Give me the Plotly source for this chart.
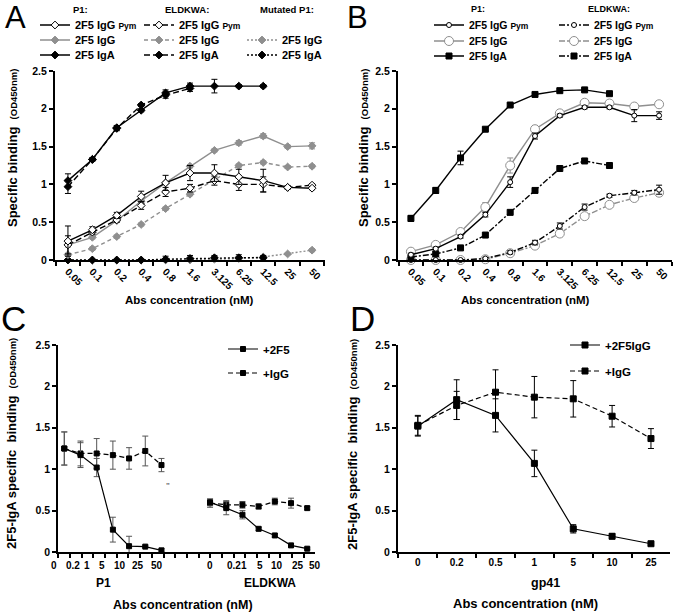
import plotly.graph_objects as go

W, H = 677, 614
FONT = "Liberation Sans, Arial, sans-serif"
BLACK = "#000000"
GRAY = "#8f8f8f"

# ---------------- data ----------------
conc = ["0.05", "0.1", "0.2", "0.4", "0.8", "1.6", "3.125", "6.25", "12.5", "25", "50"]

# Panel A
a_p1_pym = [0.25, 0.40, 0.59, 0.84, 1.02, 1.15, 1.15, 1.10, 1.05, 0.96, 0.95]
a_p1_pym_err = [0.20, 0.04, 0.04, 0.07, 0.10, 0.10, 0.11, 0.10, 0.15, 0.02, 0.02]
a_p1_igg = [0.20, 0.30, 0.52, 0.78, 1.02, 1.24, 1.45, 1.55, 1.64, 1.50, 1.51]
a_p1_igg_err = [0.03, 0.02, 0.02, 0.02, 0.02, 0.02, 0.02, 0.03, 0.03, 0.02, 0.04]
a_p1_iga = [1.05, 1.33, 1.75, 1.98, 2.21, 2.30, 2.30, 2.30, 2.30]
a_p1_iga_err = [0.09, 0.02, 0.03, 0.02, 0.04, 0.04, 0.09, 0.02, 0.02]
a_el_pym = [0.20, 0.37, 0.53, 0.72, 0.90, 0.95, 1.05, 1.00, 1.00, 0.96, 0.99]
a_el_pym_err = [0.12, 0.03, 0.03, 0.05, 0.06, 0.05, 0.06, 0.08, 0.10, 0.02, 0.02]
a_el_igg = [0.07, 0.15, 0.31, 0.47, 0.68, 0.87, 1.06, 1.25, 1.29, 1.23, 1.24]
a_el_igg_err = [0.02, 0.02, 0.02, 0.02, 0.02, 0.02, 0.02, 0.02, 0.02, 0.02, 0.02]
a_el_iga = [0.97, 1.33, 1.74, 2.05, 2.18, 2.27]
a_el_iga_err = [0.09, 0.02, 0.03, 0.02, 0.04, 0.04]
a_mut_igg = [0.0, 0.0, 0.0, 0.0, 0.0, 0.0, 0.01, 0.02, 0.04, 0.08, 0.13]
a_mut_igg_err = [0, 0, 0, 0, 0, 0, 0, 0, 0, 0.01, 0.02]
a_mut_iga = [0.0, 0.0, 0.0, 0.0, 0.01, 0.02, 0.03, 0.03, 0.03]
a_mut_iga_err = [0, 0, 0, 0.01, 0.04, 0.04, 0.03, 0.04, 0.03]

# Panel B
b_p1_pym = [0.07, 0.15, 0.31, 0.60, 1.03, 1.64, 1.91, 2.02, 2.02, 1.91, 1.91]
b_p1_pym_err = [0.02, 0.02, 0.02, 0.03, 0.07, 0.04, 0.02, 0.02, 0.02, 0.08, 0.05]
b_p1_igg = [0.11, 0.20, 0.37, 0.70, 1.25, 1.73, 1.94, 2.08, 2.07, 2.03, 2.06]
b_p1_igg_err = [0.02, 0.02, 0.03, 0.06, 0.10, 0.05, 0.02, 0.02, 0.02, 0.03, 0.02]
b_p1_iga = [0.55, 0.92, 1.35, 1.73, 2.05, 2.19, 2.24, 2.25, 2.20]
b_p1_iga_err = [0.04, 0.04, 0.09, 0.02, 0.02, 0.02, 0.02, 0.02, 0.02]
b_el_pym = [0.0, 0.0, 0.0, 0.02, 0.10, 0.23, 0.45, 0.70, 0.85, 0.89, 0.93]
b_el_pym_err = [0.0, 0.0, 0.0, 0.01, 0.02, 0.03, 0.04, 0.04, 0.02, 0.03, 0.06]
b_el_igg = [0.0, 0.0, 0.0, 0.01, 0.09, 0.19, 0.35, 0.58, 0.73, 0.82, 0.89]
b_el_igg_err = [0.0, 0.0, 0.0, 0.01, 0.02, 0.02, 0.04, 0.02, 0.02, 0.02, 0.05]
b_el_iga = [0.04, 0.08, 0.16, 0.33, 0.63, 0.92, 1.21, 1.31, 1.25]

# Panel C
c_doses = ["0", "0.2", "1", "5", "10", "25", "50"]
c_labels = ["0", "0.2", "1", "5", "10", "25", "50", "0", "0.21", "5", "10", "25", "50"]
c_groups = ["P1", "ELDKWA"]
c_p1_2f5 = [1.25, 1.17, 1.02, 0.27, 0.07, 0.065, 0.02]
c_p1_2f5_err = [0.20, 0.15, 0.11, 0.15, 0.12, 0.01, 0.02]
c_p1_igg = [1.25, 1.19, 1.19, 1.17, 1.13, 1.22, 1.05]
c_p1_igg_err = [0.20, 0.15, 0.18, 0.17, 0.13, 0.18, 0.08]
c_el_2f5 = [0.60, 0.53, 0.45, 0.28, 0.20, 0.08, 0.04]
c_el_2f5_err = [0.04, 0.08, 0.05, 0.02, 0.02, 0.02, 0.01]
c_el_igg = [0.59, 0.57, 0.57, 0.55, 0.61, 0.59, 0.53]
c_el_igg_err = [0.05, 0.05, 0.04, 0.03, 0.04, 0.06, 0.02]

# Panel D
d_doses = ["0", "0.2", "0.5", "1", "5", "10", "25"]
d_2f5 = [1.52, 1.84, 1.65, 1.07, 0.28, 0.19, 0.10]
d_2f5_err = [0.12, 0.24, 0.20, 0.16, 0.05, 0.03, 0.02]
d_igg = [1.53, 1.77, 1.93, 1.87, 1.85, 1.64, 1.37]
d_igg_err = [0.12, 0.17, 0.27, 0.25, 0.22, 0.13, 0.12]

# ---------------- helpers ----------------
def fx(p):
    return p / W

def fy(p):
    return 1 - p / H

PYM = "2F5 IgG <span style='font-size:8.5px'>Pym</span>"

fig = go.Figure()

def add(x, y, err, name, legend, ax, color, dash, symbol, msize, fill, mline,
        showlegend=True, errcolor=None, lw=1.4):
    ex = dict(type="data", array=err, visible=True, color=errcolor or color,
              thickness=1, width=3) if err is not None else None
    fig.add_trace(go.Scatter(
        x=x, y=y, mode="lines+markers", name=name,
        xaxis="x" + ax, yaxis="y" + ax,
        line=dict(color=color, width=lw, dash=dash),
        marker=dict(symbol=symbol, size=msize, color=fill,
                    line=dict(color=mline, width=1)),
        error_y=ex, cliponaxis=False,
        legend=legend, showlegend=showlegend, hoverinfo="skip"))

# Panel A traces
add(conc[:len(a_mut_igg)], a_mut_igg, a_mut_igg_err, "2F5 IgG", "legend7", "", GRAY, "2px,2px", "diamond", 6, GRAY, GRAY)
add(conc[:len(a_mut_iga)], a_mut_iga, a_mut_iga_err, "2F5 IgA", "legend8", "", BLACK, "2px,2px", "diamond", 6, BLACK, BLACK)
add(conc[:len(a_el_igg)], a_el_igg, a_el_igg_err, "2F5 IgG", "legend5", "", GRAY, "4px,3px", "diamond", 6, GRAY, GRAY)
add(conc[:len(a_p1_igg)], a_p1_igg, a_p1_igg_err, "2F5 IgG", "legend2", "", GRAY, "solid", "diamond", 6, GRAY, GRAY)
add(conc[:len(a_el_pym)], a_el_pym, a_el_pym_err, PYM, "legend4", "", BLACK, "6px,3px", "diamond", 6, "white", BLACK)
add(conc[:len(a_p1_pym)], a_p1_pym, a_p1_pym_err, PYM, "legend", "", BLACK, "solid", "diamond", 6, "white", BLACK)
add(conc[:len(a_el_iga)], a_el_iga, a_el_iga_err, "2F5 IgA", "legend6", "", BLACK, "6px,3px", "diamond", 6, BLACK, BLACK)
add(conc[:len(a_p1_iga)], a_p1_iga, a_p1_iga_err, "2F5 IgA", "legend3", "", BLACK, "solid", "diamond", 6, BLACK, BLACK)

# Panel B traces
DD = "6px,2px,2px,2px"
add(conc[:len(b_el_igg)], b_el_igg, b_el_igg_err, "2F5 IgG", "legend13", "2", GRAY, DD, "circle", 9, "white", GRAY)
add(conc[:len(b_el_pym)], b_el_pym, b_el_pym_err, PYM, "legend12", "2", BLACK, DD, "circle", 5, "white", BLACK)
add(conc[:len(b_el_iga)], b_el_iga, None, "2F5 IgA", "legend14", "2", BLACK, DD, "square", 6, BLACK, BLACK)
add(conc[:len(b_p1_igg)], b_p1_igg, b_p1_igg_err, "2F5 IgG", "legend10", "2", GRAY, "solid", "circle", 9, "white", GRAY)
add(conc[:len(b_p1_pym)], b_p1_pym, b_p1_pym_err, PYM, "legend9", "2", BLACK, "solid", "circle", 5, "white", BLACK)
add(conc[:len(b_p1_iga)], b_p1_iga, b_p1_iga_err, "2F5 IgA", "legend11", "2", BLACK, "solid", "square", 6, BLACK, BLACK)

# Panel C traces (two groups of doses on one linear axis)
c_p1_x = list(range(len(c_doses)))
c_el_x = [i + len(c_doses) + 2 for i in range(len(c_doses))]
EC = "#555555"
add(c_p1_x, c_p1_igg, c_p1_igg_err, "+IgG", "legend16", "3", BLACK, "5px,3px", "square", 5, BLACK, BLACK, errcolor=EC, lw=1.2)
add(c_el_x, c_el_igg, c_el_igg_err, "+IgG", "legend16", "3", BLACK, "5px,3px", "square", 5, BLACK, BLACK, showlegend=False, errcolor=EC, lw=1.2)
add(c_p1_x, c_p1_2f5, c_p1_2f5_err, "+2F5", "legend15", "3", BLACK, "solid", "square", 5, BLACK, BLACK, errcolor=EC, lw=1.2)
add(c_el_x, c_el_2f5, c_el_2f5_err, "+2F5", "legend15", "3", BLACK, "solid", "square", 5, BLACK, BLACK, showlegend=False, errcolor=EC, lw=1.2)

# Panel D traces
add(d_doses, d_igg, d_igg_err, "+IgG", "legend18", "4", BLACK, "5px,3px", "square", 6, BLACK, BLACK, lw=1.2)
add(d_doses, d_2f5, d_2f5_err, "+2F5IgG", "legend17", "4", BLACK, "solid", "square", 6, BLACK, BLACK, lw=1.2)

# ---------------- axes ----------------
def tfont(size):
    return dict(family=FONT, size=size, color=BLACK, weight="bold")

def yax(domain, anchor):
    return dict(domain=domain, anchor=anchor, range=[0, 2.5],
                tickvals=[0, 0.5, 1, 1.5, 2, 2.5],
                ticktext=["0", "0.5", "1", "1.5", "2", "2.5"],
                showline=True, linewidth=2, linecolor=BLACK, ticks="outside",
                ticklen=4, tickwidth=1.5, tickcolor=BLACK, showgrid=False,
                zeroline=False, tickfont=tfont(10.5), fixedrange=True)

def xcat(domain, anchor, cats, rng, angle):
    return dict(domain=domain, anchor=anchor, type="category",
                categoryorder="array", categoryarray=cats, range=rng,
                tickson="boundaries", showline=True, linewidth=2,
                linecolor=BLACK, ticks="outside", ticklen=4, tickwidth=1.5,
                tickcolor=BLACK, tickangle=angle, showgrid=False,
                zeroline=False, tickfont=tfont(10), fixedrange=True)

yA = [fy(260), fy(71)]
yC = [fy(552), fy(345)]

layout = dict(
    width=W, height=H, margin=dict(l=0, r=0, t=0, b=0, autoexpand=False),
    paper_bgcolor="white", plot_bgcolor="white",
    font=dict(family=FONT, color=BLACK),
    xaxis=xcat([fx(55), fx(325)], "y", conc, [-0.53, 10.53], 45),
    yaxis=yax(yA, "x"),
    xaxis2=xcat([fx(398), fx(672)], "y2", conc, [-0.52, 10.52], 45),
    yaxis2=yax(yA, "x2"),
    xaxis3=dict(domain=[fx(58.3), fx(315)], anchor="y3", range=[-0.37, 15.48],
                tick0=-0.37, dtick=0.722, showticklabels=False,
                showline=True, linewidth=2, linecolor=BLACK, ticks="outside",
                ticklen=4, tickwidth=1.5, tickcolor=BLACK, showgrid=False,
                zeroline=False, fixedrange=True),
    yaxis3=yax(yC, "x3"),
    xaxis4=xcat([fx(398), fx(670)], "y4", d_doses, [-0.51, 6.49], 0),
    yaxis4=yax(yC, "x4"),
)

# legends (one per entry for exact placement)
def leg(sx, sy, size=11):
    return dict(x=fx(sx - 8), y=fy(sy), xanchor="left", yanchor="middle",
                bgcolor="rgba(0,0,0,0)", borderwidth=0, itemwidth=30,
                font=tfont(size), itemclick=False, itemdoubleclick=False)

legpos = {
    "legend": (43, 25, 11), "legend2": (43, 40, 11), "legend3": (43, 55, 11),
    "legend4": (147, 25, 11), "legend5": (147, 40, 11), "legend6": (147, 55, 11),
    "legend7": (250, 40, 11), "legend8": (250, 55, 11),
    "legend9": (437, 25, 10.5), "legend10": (437, 41, 10.5), "legend11": (437, 56, 10.5),
    "legend12": (562, 25, 10.5), "legend13": (562, 41, 10.5), "legend14": (562, 56, 10.5),
    "legend15": (231, 349, 11.5), "legend16": (231, 373, 11.5),
    "legend17": (573, 345, 11.5), "legend18": (573, 371, 11.5),
}
for k, (sx, sy, s) in legpos.items():
    layout[k] = leg(sx, sy, s)

fig.update_layout(**layout)

# ---------------- annotations ----------------
def note(text, x, y, size, weight="bold", angle=0, xanchor="center", color=BLACK):
    fig.add_annotation(text=text, x=x, y=y, xref="paper", yref="paper",
                       showarrow=False, textangle=angle, xanchor=xanchor,
                       yanchor="middle",
                       font=dict(family=FONT, size=size, color=color, weight=weight))

# panel letters
note("A", fx(15), fy(17), 31, weight="normal")
note("B", fx(357), fy(17), 31, weight="normal")
note("C", fx(13), fy(318), 35, weight="normal")
note("D", fx(362), fy(318), 35, weight="normal")

# legend headers
note("P1:", fx(80), fy(9), 9.5)
note("ELDKWA:", fx(187), fy(9), 9.5)
note("Mutated P1:", fx(287), fy(9), 9.5)
note("P1:", fx(478), fy(9), 9)
note("ELDKWA:", fx(609), fy(9), 9)

# axis titles
XT = "Abs concentration (nM)"
note(XT, fx(190), fy(300), 11.5)
note(XT, fx(525), fy(300), 11.5)
note(XT, fx(183), fy(605), 12.5)
note(XT, fx(525), fy(603), 13)
note("gp41", fx(545), fy(583), 12.5)
YT1 = "Specific binding&nbsp; <span style='font-size:9.5px'>(OD450nm)</span>"
YT2 = "2F5-IgA specific&nbsp; binding&nbsp; <span style='font-size:9.5px'>(OD450nm)</span>"
note(YT1, fx(12), fy(148), 13, angle=-90)
note(YT1, fx(363), fy(148), 13, angle=-90)
note(YT2, fx(11), fy(444), 13, angle=-90)
note(YT2, fx(352), fy(444), 13, angle=-90)

# panel C tick labels (Excel-style offset labels) and group names
c_label_px = [54, 72.7, 86.7, 101.7, 120, 138, 156.7, 210, 236.7, 260, 277, 298, 315]
for t, p in zip(c_labels, c_label_px):
    note(t, fx(p), fy(565), 10)
note(c_groups[0], fx(103), fy(583), 12)
note(c_groups[1], fx(270), fy(583), 12)
note("\"", fx(168), fy(485), 8, color="#666666")

fig.write_html(
    "out.html",
    config={"displayModeBar": False, "staticPlot": False},
    post_script="document.body.style.margin='0';document.body.style.padding='0';",
)
